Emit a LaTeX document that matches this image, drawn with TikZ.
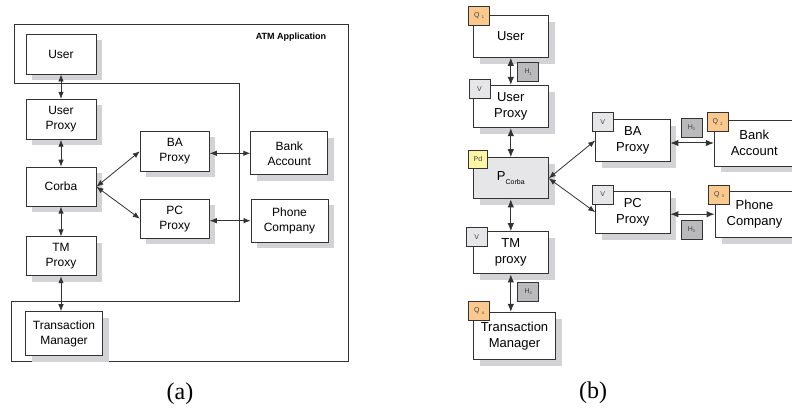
\documentclass[tikz,border=0pt]{standalone}
\usepackage{fontspec}
\setmainfont{Liberation Sans}
\newfontfamily\capfont{Liberation Serif}
\usetikzlibrary{arrows.meta,shadows}

\definecolor{edgegrey}{HTML}{333333}
\definecolor{shadowgrey}{HTML}{D3D3D5}
\definecolor{qorange}{HTML}{FBC98E}
\definecolor{vgrey}{HTML}{E6E6E8}
\definecolor{hgrey}{HTML}{BABABC}
\definecolor{pdyellow}{HTML}{FFF6A5}

\newcommand{\tagsub}[2]{#1\raisebox{-1.5pt}{\fontsize{4}{4.5}\selectfont #2}}

\tikzstyle{plain}=[draw=edgegrey, fill=white, line width=0.9pt, align=center, inner sep=0pt]
\tikzstyle{boxa}=[plain, font=\fontsize{12}{15}\selectfont, drop shadow={shadow xshift=6pt, shadow yshift=-6pt, fill=shadowgrey, opacity=1}]
\tikzstyle{boxb}=[plain, font=\fontsize{13}{16}\selectfont, drop shadow={shadow xshift=6.5pt, shadow yshift=-6.5pt, fill=shadowgrey, opacity=1}]
\tikzstyle{tag}=[draw=edgegrey, line width=0.8pt, minimum width=21pt, minimum height=19pt, inner sep=0pt, font=\fontsize{7}{8}\selectfont, text=black!75]
\tikzstyle{link}=[{Latex[length=7pt,width=5.5pt]}-{Latex[length=7pt,width=5.5pt]}, draw=edgegrey, line width=0.8pt]
\tikzstyle{linkb}=[{Latex[length=8pt,width=6.5pt]}-{Latex[length=8pt,width=6.5pt]}, draw=edgegrey, line width=1pt]

\begin{document}
\begin{tikzpicture}[x=1pt, y=-1pt]
			\useasboundingbox (0,0) rectangle (792,411);
			\clip (0,0) rectangle (792,411);
			%Frame of the ATM application
			\draw[draw=edgegrey, line width=0.8pt] (14.3,24.3) -- (348.7,24.3) -- (348.7,361.7) -- (11,361.7)
				-- (11,301) -- (239.3,301) -- (239.3,83.7) -- (14.3,83.7) -- cycle;
			\node[font=\bfseries\fontsize{9}{10}\selectfont] (atmlabel) at (291,36.7) {ATM Application};
			%Components of (a)
			\foreach \pos/\name/\w/\h/\txt in {{(61,54)/usera/70/40/User},
									{(61,119.3)/uproxya/70/40/{User\\Proxy}},
									{(61,186.7)/corbaa/70/39/Corba},
									{(61,256.3)/tmproxya/70/39/{TM\\Proxy}},
									{(64,333.7)/tma/77/44/{Transaction\\Manager}},
									{(174.8,151.3)/baproxya/69/40/{BA\\Proxy}},
									{(174.8,218.7)/pcproxya/69/39/{PC\\Proxy}},
									{(289.3,153.3)/banka/77/43/{Bank\\Account}},
									{(289.5,220.7)/phonea/77/43/{Phone\\Company}}}
			\node[boxa, minimum width=\w pt, minimum height=\h pt] (\name) at \pos {\txt};
			%Connectors of (a)
			\draw[link] (usera) -- (uproxya);
			\draw[link] (uproxya) -- (corbaa);
			\draw[link] (corbaa) -- (tmproxya);
			\draw[link] (tmproxya.south) -- (tmproxya.south |- tma.north);
			\draw[link] (corbaa.east) -- (baproxya.west);
			\draw[link] (corbaa.east) -- (pcproxya.west);
			\draw[link] (banka.west -| baproxya.east) -- (banka.west);
			\draw[link] (phonea.west -| pcproxya.east) -- (phonea.west);
			%Components of (b)
			\foreach \pos/\name/\w/\h/\txt in {{(510.8,36.2)/userb/75/42.3/User},
									{(510.8,106.5)/uproxyb/75/42.3/{User\\Proxy}},
									{(510.8,252.8)/tmproxyb/75/42.3/{TM\\proxy}},
									{(514.5,335.7)/tmb/82.4/46.7/{Transaction\\Manager}},
									{(632.8,140.5)/baproxyb/74.3/42.4/{BA\\Proxy}},
									{(632.8,212.2)/pcproxyb/74.3/42.3/{PC\\Proxy}},
									{(754.3,143)/bankb/80/46/{Bank\\Account}},
									{(754.5,214.2)/phoneb/79/46.3/{Phone\\Company}}}
			\node[boxb, minimum width=\w pt, minimum height=\h pt] (\name) at \pos {\txt};
			\node[boxb, fill=vgrey, minimum width=75pt, minimum height=41.3pt] (pcorbab) at (510.8,178.3)
				{P\raisebox{-4pt}{\fontsize{7}{8}\selectfont Corba}};
			%Connectors of (b)
			\draw[linkb] (userb) -- (uproxyb);
			\draw[linkb] (uproxyb) -- (pcorbab);
			\draw[linkb] (pcorbab) -- (tmproxyb);
			\draw[linkb] (tmproxyb.south) -- (tmproxyb.south |- tmb.north);
			\draw[link] (pcorbab.east) -- (baproxyb.west);
			\draw[link] (pcorbab.east) -- (pcproxyb.west);
			\draw[linkb] (bankb.west -| baproxyb.east) -- (bankb.west);
			\draw[linkb] (phoneb.west -| pcproxyb.east) -- (phoneb.west);
			%Tags on the corners
			\foreach \pos/\name/\col/\txt in {{(479.2,15.8)/qone/qorange/{\tagsub{Q\,\,}{1}}},
									{(717.5,122.2)/qtwo/qorange/{\tagsub{Q\,\,}{2}}},
									{(719.2,194.5)/qthree/qorange/{\tagsub{Q\,\,}{3}}},
									{(479.2,311.2)/qfour/qorange/{\tagsub{Q\,\,}{4}}},
									{(479.5,88.7)/vuser/vgrey/V},
									{(602.8,122.2)/vba/vgrey/V},
									{(602.8,194.5)/vpc/vgrey/V},
									{(476.8,237.2)/vtm/vgrey/V},
									{(528.3,72.2)/hone/hgrey/{\tagsub{H}{1}}},
									{(691.5,127.8)/htwo/hgrey/{\tagsub{H}{2}}},
									{(691.5,229.5)/hthree/hgrey/{\tagsub{H}{3}}},
									{(528.3,291.7)/hfour/hgrey/{\tagsub{H}{4}}}}
			\node[tag, fill=\col] (\name) at \pos {\txt};
			\node[tag, fill=pdyellow, minimum width=19.4pt, minimum height=17.6pt] (pd) at (478,159.5) {Pd};
			%Captions
			\node[font=\capfont\fontsize{24}{26}\selectfont] (capa) at (180,394) {(a)};
			\node[font=\capfont\fontsize{24}{26}\selectfont] (capb) at (593,393) {(b)};
		\end{tikzpicture}
\end{document}
